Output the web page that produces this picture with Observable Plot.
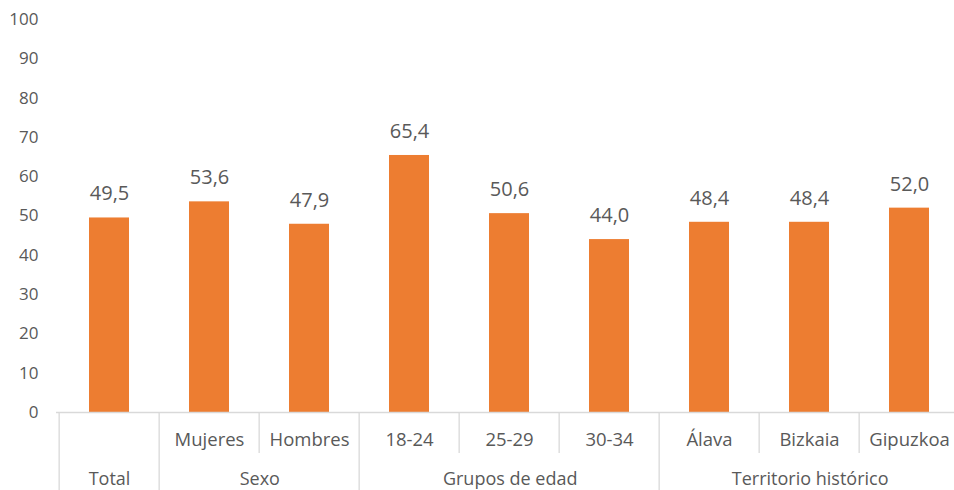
<!DOCTYPE html>
<html><head><meta charset="utf-8">
<script src="https://cdn.jsdelivr.net/npm/d3@7"></script>
<script src="https://cdn.jsdelivr.net/npm/@observablehq/plot@0.6"></script>
<style>html,body{margin:0;padding:0;background:#fff;overflow:hidden}</style>
</head><body><div id="chart"></div>
<script>
const categories = ["Total","Mujeres","Hombres","18-24","25-29","30-34","Álava","Bizkaia","Gipuzkoa"];
const subLabels = ["","Mujeres","Hombres","18-24","25-29","30-34","Álava","Bizkaia","Gipuzkoa"];
const groups = ["Total","Sexo","Sexo","Grupos de edad","Grupos de edad","Grupos de edad","Territorio histórico","Territorio histórico","Territorio histórico"];
const values = [49.5,53.6,47.9,65.4,50.6,44.0,48.4,48.4,52.0];
const yTicks = [0,10,20,30,40,50,60,70,80,90,100];

const W = 954, H = 490, mL = 56, xEnd = 962, mT = 19, mB = 78;
const step = (xEnd - mL) / categories.length;
const pxToY = 100 / (H - mT - mB);
const yFull = -mB * pxToY, yShort = -41 * pxToY;

const data = categories.map((c, i) => ({
  cat: c, sub: subLabels[i], group: groups[i], value: values[i],
  label: values[i].toFixed(1).replace(".", ","),
  full: i === 0 || groups[i] !== groups[i - 1]
}));

const groupNames = [...new Set(groups)];
const groupMarks = groupNames.map(g => {
  const idx = groups.map((d, i) => d === g ? i : -1).filter(i => i >= 0);
  return Plot.text([{cat: categories[idx[0]], g}], {
    x: "cat", y: 0, text: "g", dy: 67, dx: (idx.length - 1) * step / 2,
    fontSize: 18, fill: "#595959"
  });
});

const chart = Plot.plot({
  width: W, height: H,
  marginLeft: mL, marginRight: 0, marginTop: mT, marginBottom: mB,
  style: {fontFamily: "'Open Sans', sans-serif", fontSize: "17px", color: "#595959", background: "#fff"},
  x: {domain: categories, range: [mL, xEnd], padding: 0, axis: null},
  y: {domain: [0, 100], axis: null},
  marks: [
    Plot.axisY({ticks: yTicks, tickSize: 0, tickPadding: 18, label: null, fill: "#595959"}),
    Plot.barY(data, {x: "cat", y: "value", fill: "#ED7D31", insetLeft: 30, insetRight: 30}),
    Plot.ruleY([0], {stroke: "#D9D9D9", strokeWidth: 1.3}),
    Plot.ruleX(data.filter(d => d.full), {x: "cat", dx: -step / 2, y1: 0, y2: yFull, stroke: "#D9D9D9", strokeWidth: 1.3}),
    Plot.ruleX(data.filter(d => !d.full), {x: "cat", dx: -step / 2, y1: 0, y2: yShort, stroke: "#D9D9D9", strokeWidth: 1.3}),
    Plot.ruleX([data[data.length - 1]], {x: "cat", dx: step / 2, y1: 0, y2: yFull, stroke: "#D9D9D9", strokeWidth: 1.3}),
    Plot.text(data, {x: "cat", y: "value", text: "label", dy: -24, fontSize: 20, fill: "#595959"}),
    Plot.text(data, {x: "cat", y: 0, text: "sub", dy: 28, fontSize: 18.5, fill: "#595959"}),
    ...groupMarks
  ]
});
document.getElementById("chart").append(chart);
</script>
</body></html>
